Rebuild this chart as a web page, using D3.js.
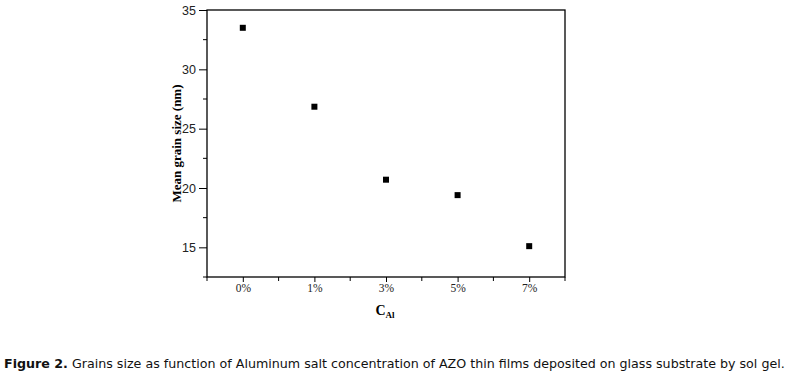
<!DOCTYPE html>
<html>
<head>
<meta charset="utf-8">
<script src="https://cdn.jsdelivr.net/npm/d3@7"></script>
<style>
  body { margin: 0; background: #fff; }
</style>
</head>
<body>
<div id="chart"></div>
<script>
// chart data
const categories = ["0%", "1%", "3%", "5%", "7%"];
const grainSize = [33.5, 26.85, 20.7, 19.4, 15.1];
const yTicks = [15, 20, 25, 30, 35];

const width = 788;
const height = 387;
const margin = {top: 10, right: 223, bottom: 110, left: 207};

const svg = d3.select("#chart").append("svg")
    .attr("width", width)
    .attr("height", height);

// index scale so each category sits in the middle of its slot
const x = d3.scaleLinear()
    .domain([-0.5, categories.length - 0.5])
    .range([margin.left, width - margin.right]);

const y = d3.scaleLinear()
    .domain([12.5, 35])
    .range([height - margin.bottom, margin.top]);

const x0 = x.range()[0], x1 = x.range()[1];
const y0 = y.range()[0], y1 = y.range()[1];

// frame
svg.append("rect")
    .attr("x", x0)
    .attr("y", y1)
    .attr("width", x1 - x0)
    .attr("height", y0 - y1)
    .attr("fill", "none")
    .attr("stroke", "#000")
    .attr("stroke-width", 1.3);

// y axis: major + minor ticks
const yMinor = d3.range(12.5, 35.01, 2.5).filter(v => !yTicks.includes(v));
svg.append("g")
    .selectAll("line.minor")
    .data(yMinor)
    .join("line")
    .attr("x1", x0 - 4).attr("x2", x0)
    .attr("y1", d => y(d)).attr("y2", d => y(d))
    .attr("stroke", "#000");

const yAxis = svg.append("g")
    .attr("transform", `translate(${x0},0)`)
    .call(d3.axisLeft(y).tickValues(yTicks).tickSize(8).tickPadding(3));
yAxis.select(".domain").remove();
yAxis.selectAll("line").attr("stroke", "#000");
yAxis.selectAll("text")
    .attr("font-family", "'Liberation Sans Narrow', 'Arial Narrow', sans-serif")
    .attr("font-size", 12.5)
    .attr("fill", "#222");

// x axis: major at categories, minor at slot edges
const xMinor = d3.range(-0.5, categories.length, 1);
svg.append("g")
    .selectAll("line")
    .data(xMinor)
    .join("line")
    .attr("x1", d => x(d)).attr("x2", d => x(d))
    .attr("y1", y0).attr("y2", y0 + 4)
    .attr("stroke", "#000");

const xAxis = svg.append("g")
    .attr("transform", `translate(0,${y0})`)
    .call(d3.axisBottom(x)
        .tickValues(d3.range(categories.length))
        .tickFormat(i => categories[i])
        .tickSize(5)
        .tickPadding(2));
xAxis.select(".domain").remove();
xAxis.selectAll("line").attr("stroke", "#000");
xAxis.selectAll("text")
    .attr("font-family", "'Liberation Serif', 'Times New Roman', serif")
    .attr("font-size", 11.5)
    .attr("fill", "#222");

// data points
svg.append("g")
    .selectAll("rect")
    .data(grainSize)
    .join("rect")
    .attr("x", (d, i) => x(i) - 3)
    .attr("y", d => y(d) - 3)
    .attr("width", 6)
    .attr("height", 6)
    .attr("fill", "#000");

// axis titles
svg.append("text")
    .attr("transform", `translate(181,${(y0 + y1) / 2}) rotate(-90)`)
    .attr("text-anchor", "middle")
    .attr("font-family", "'Liberation Serif', 'Times New Roman', serif")
    .attr("font-weight", "bold")
    .attr("font-size", 13)
    .text("Mean grain size (nm)");

const xt = svg.append("text")
    .attr("x", (x0 + x1) / 2 - 1)
    .attr("y", 315)
    .attr("text-anchor", "middle")
    .attr("font-family", "'Liberation Serif', 'Times New Roman', serif")
    .attr("font-weight", "bold")
    .attr("font-size", 14);
xt.append("tspan").text("C");
xt.append("tspan").attr("font-size", 9).attr("dy", 3).text("Al");

// caption, scaled to span the page width like the original
const cap = svg.append("text")
    .attr("x", 4)
    .attr("y", 368)
    .attr("font-family", "'DejaVu Sans', Verdana, sans-serif")
    .attr("font-size", 12)
    .attr("fill", "#111");
cap.append("tspan").attr("font-weight", "bold").text("Figure 2.");
cap.append("tspan").text(" Grains size as function of Aluminum salt concentration of AZO thin films deposited on glass substrate by sol gel.");
const capW = cap.node().getComputedTextLength();
cap.attr("font-size", 12 * 781 / capW);
</script>
</body>
</html>
